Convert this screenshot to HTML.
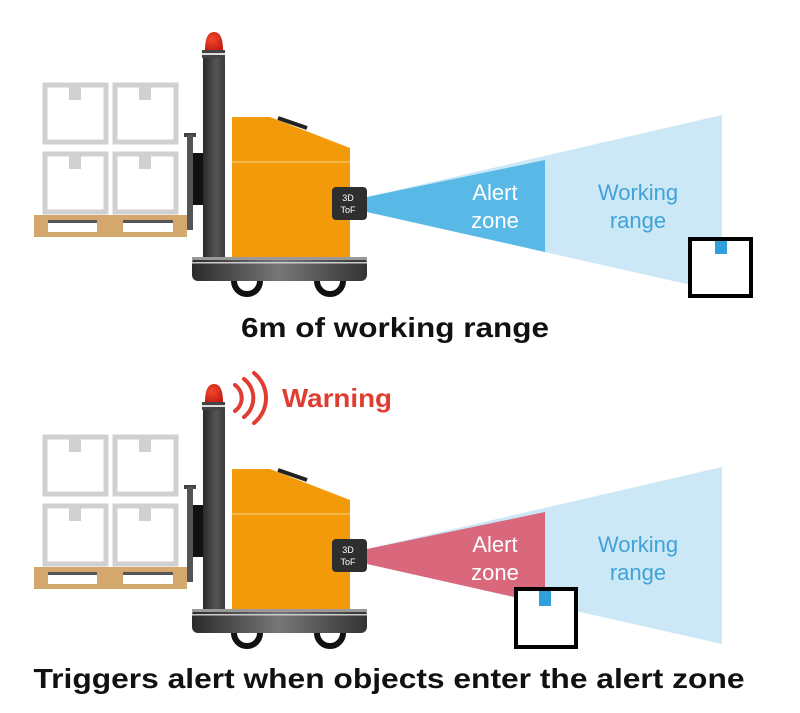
<!DOCTYPE html>
<html><head><meta charset="utf-8"><style>
html,body{margin:0;padding:0;background:#fff;}
svg{display:block;font-family:"Liberation Sans",sans-serif;}
</style></head><body>
<svg width="800" height="713" viewBox="0 0 800 713" xmlns="http://www.w3.org/2000/svg">
<defs>
<linearGradient id="mast" x1="0" x2="1"><stop offset="0" stop-color="#2a2a2a"/><stop offset="0.6" stop-color="#555"/><stop offset="1" stop-color="#3a3a3a"/></linearGradient>
<linearGradient id="base" x1="0" x2="1"><stop offset="0" stop-color="#2b2b2b"/><stop offset="0.5" stop-color="#777"/><stop offset="1" stop-color="#333"/></linearGradient>
<radialGradient id="beacon" cx="0.4" cy="0.4" r="0.7"><stop offset="0" stop-color="#f04a2a"/><stop offset="1" stop-color="#c51b12"/></radialGradient>
<g id="fl">
  <!-- boxes -->
  <g fill="none" stroke="#d0d0d0" stroke-width="5">
    <rect x="45" y="85" width="61" height="57"/>
    <rect x="115" y="85" width="61" height="57"/>
    <rect x="45" y="154" width="61" height="58"/>
    <rect x="115" y="154" width="61" height="58"/>
  </g>
  <g fill="#d0d0d0">
    <rect x="69" y="85" width="12" height="15"/>
    <rect x="139" y="85" width="12" height="15"/>
    <rect x="69" y="154" width="12" height="15"/>
    <rect x="139" y="154" width="12" height="15"/>
  </g>
  <!-- pallet -->
  <rect x="34" y="215" width="153" height="22" fill="#d4a86c"/>
  <rect x="48" y="220" width="49" height="12" fill="#fff"/>
  <rect x="123" y="220" width="50" height="12" fill="#fff"/>
  <rect x="48" y="220" width="49" height="3" fill="#555"/>
  <rect x="123" y="220" width="50" height="3" fill="#555"/>
  <!-- carriage -->
  <rect x="184" y="133" width="12" height="4" fill="#444"/>
  <rect x="187" y="135" width="6" height="95" fill="#555"/>
  <rect x="193" y="153" width="11" height="52" fill="#111"/>
  <!-- mast -->
  <path d="M205 50 Q205 32 214 32 Q223 32 223 50 Z" fill="url(#beacon)"/>
  <rect x="202" y="50" width="23" height="8" fill="#444"/>
  <rect x="202" y="53" width="23" height="2" fill="#ddd"/>
  <rect x="203" y="58" width="22" height="202" fill="url(#mast)"/>
  <!-- body -->
  <path d="M232 117 L270 117 L350 148 L350 258 L232 258 Z" fill="#f39a0b"/>
  <line x1="232" y1="162" x2="350" y2="162" stroke="#f8c060" stroke-width="1.5"/>
  <line x1="278" y1="118" x2="307" y2="128" stroke="#222" stroke-width="4"/>
  <!-- base -->
  <rect x="192" y="257" width="175" height="24" rx="6" fill="url(#base)"/>
  <rect x="192" y="257" width="175" height="3" fill="#999"/>
  <rect x="192" y="262" width="175" height="1.5" fill="#ccc"/>
  <path d="M234 281 A13 13 0 0 0 260 281" fill="none" stroke="#111" stroke-width="6"/>
  <path d="M317 281 A13 13 0 0 0 343 281" fill="none" stroke="#111" stroke-width="6"/>
  <!-- sensor -->
  <rect x="332" y="187" width="35" height="33" rx="4" fill="#2e2e2e"/>
  <text x="348" y="201" font-size="9" fill="#fff" text-anchor="middle">3D</text>
  <text x="348" y="213" font-size="9" fill="#fff" text-anchor="middle">ToF</text>
</g>
</defs>

<!-- TOP SCENE -->
<polygon points="367,197 722,115 722,292 367,212" fill="#cce8f7"/>
<polygon points="367,197 545,160 545,252 367,212" fill="#58b8e6"/>
<use href="#fl"/>
<text x="495" y="200" font-size="22" fill="#fff" text-anchor="middle">Alert</text>
<text x="495" y="228" font-size="22" fill="#fff" text-anchor="middle">zone</text>
<text x="638" y="200" font-size="22" fill="#3ea3d8" text-anchor="middle">Working</text>
<text x="638" y="228" font-size="22" fill="#3ea3d8" text-anchor="middle">range</text>
<rect x="690" y="239" width="61" height="57" fill="#fff" stroke="#000" stroke-width="4"/>
<rect x="715" y="241" width="12" height="13" fill="#2fa0dc"/>
<text x="395" y="337" font-size="28" font-weight="bold" fill="#111" text-anchor="middle" textLength="308" lengthAdjust="spacingAndGlyphs">6m of working range</text>

<!-- BOTTOM SCENE -->
<g transform="translate(0,352)">
<polygon points="367,197 722,115 722,292 367,212" fill="#cce8f7"/>
<polygon points="367,197 545,160 545,252 367,212" fill="#d9687c"/>
<use href="#fl"/>
<text x="495" y="200" font-size="22" fill="#fff" text-anchor="middle">Alert</text>
<text x="495" y="228" font-size="22" fill="#fff" text-anchor="middle">zone</text>
<text x="638" y="200" font-size="22" fill="#3ea3d8" text-anchor="middle">Working</text>
<text x="638" y="228" font-size="22" fill="#3ea3d8" text-anchor="middle">range</text>
</g>
<rect x="516" y="589" width="60" height="58" fill="#fff" stroke="#000" stroke-width="4"/>
<rect x="539" y="591" width="12" height="15" fill="#2fa0dc"/>
<g fill="none" stroke="#e03c31" stroke-width="4" stroke-linecap="round">
  <path d="M235 385 A16 16 0 0 1 235 411"/>
  <path d="M244 379 A24 24 0 0 1 244 417"/>
  <path d="M254 373 A32 32 0 0 1 254 423"/>
</g>
<text x="282" y="407" font-size="26" font-weight="bold" fill="#e03c31" textLength="110" lengthAdjust="spacingAndGlyphs">Warning</text>
<text x="389" y="688" font-size="28" font-weight="bold" fill="#111" text-anchor="middle" textLength="711" lengthAdjust="spacingAndGlyphs">Triggers alert when objects enter the alert zone</text>
</svg>
</body></html>
